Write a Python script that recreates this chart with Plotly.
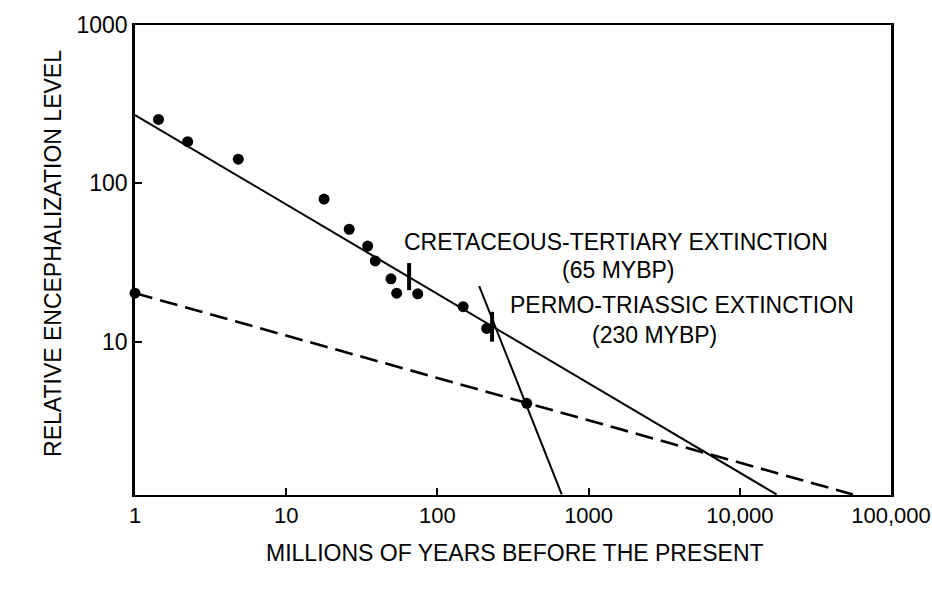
import plotly.graph_objects as go

# ---- data ----
fossil_age_myr = [1.43, 2.23, 4.82, 17.8, 26.1, 34.6, 38.8, 49.3, 53.8, 74.1, 148, 212, 390]
fossil_level = [253, 183, 142, 79.5, 51.2, 40.1, 32.3, 24.9, 20.2, 20.0, 16.6, 12.1, 4.07]

dash_start_age = [1.0]
dash_start_level = [20.2]

trend_age = [1.0, 17500]
trend_level = [270, 1.08]

dashed_age = [1.0, 56100]
dashed_level = [20.2, 1.08]

steep_age = [189, 664]
steep_level = [22.4, 1.08]

ct_age = [65, 65]
ct_level = [21.1, 31.3]
pt_age = [230, 230]
pt_level = [9.97, 15.4]

x_tickvals = [1, 10, 100, 1000, 10000, 100000]
x_ticktext = ["1", "10", "100", "1000", "10,000", "100,000"]
y_tickvals = [10, 100, 1000]
y_ticktext = ["10", "100", "1000"]

FONT = "Liberation Sans, Arial, sans-serif"
FS = 23

fig = go.Figure()
fig.add_trace(go.Scatter(x=trend_age, y=trend_level, mode="lines",
                         line=dict(color="black", width=2), showlegend=False))
fig.add_trace(go.Scatter(x=dashed_age, y=dashed_level, mode="lines",
                         line=dict(color="black", width=2.6, dash="18px,8px"), showlegend=False))
fig.add_trace(go.Scatter(x=steep_age, y=steep_level, mode="lines",
                         line=dict(color="black", width=2), showlegend=False))
fig.add_trace(go.Scatter(x=ct_age, y=ct_level, mode="lines",
                         line=dict(color="black", width=4), showlegend=False))
fig.add_trace(go.Scatter(x=pt_age, y=pt_level, mode="lines",
                         line=dict(color="black", width=4), showlegend=False))
fig.add_trace(go.Scatter(x=fossil_age_myr, y=fossil_level, mode="markers",
                         marker=dict(color="black", size=11), showlegend=False,
                         cliponaxis=False))
fig.add_trace(go.Scatter(x=dash_start_age, y=dash_start_level, mode="markers",
                         marker=dict(color="black", size=11), showlegend=False,
                         cliponaxis=False))

ann_font = dict(family=FONT, size=FS, color="black")
annotations = [
    dict(text="CRETACEOUS-TERTIARY EXTINCTION", x=0.3532, y=0.5383),
    dict(text="(65 MYBP)", x=0.5622, y=0.4787),
    dict(text="PERMO-TRIASSIC EXTINCTION", x=0.4934, y=0.4043),
    dict(text="(230 MYBP)", x=0.6019, y=0.3404),
]
for a in annotations:
    fig.add_annotation(text=a["text"], x=a["x"], y=a["y"], xref="paper", yref="paper",
                       xanchor="left", yanchor="middle", showarrow=False, font=ann_font)

fig.add_annotation(text="MILLIONS OF YEARS BEFORE THE PRESENT", x=0.502, y=-0.1234,
                   xref="paper", yref="paper", xanchor="center", yanchor="middle",
                   showarrow=False, font=ann_font)
fig.add_annotation(text="RELATIVE ENCEPHALIZATION LEVEL", x=-0.1085, y=0.515,
                   xref="paper", yref="paper", xanchor="center", yanchor="middle",
                   textangle=-90, showarrow=False, font=ann_font)

fig.update_layout(
    width=932, height=591,
    margin=dict(l=135, r=41, t=25, b=96),
    paper_bgcolor="white", plot_bgcolor="white",
    font=dict(family=FONT, size=FS, color="black"),
    xaxis=dict(type="log", range=[0, 5], tickvals=x_tickvals, ticktext=x_ticktext,
               showgrid=False, zeroline=False, showline=True, linecolor="black",
               linewidth=2, mirror=True, ticks="inside", ticklen=7, tickwidth=1.5,
               tickcolor="black", ticklabeloverflow="allow", automargin=False,
               tickfont=dict(family=FONT, size=22, color="black")),
    yaxis=dict(type="log", range=[0.03, 3], tickvals=y_tickvals, ticktext=y_ticktext,
               showgrid=False, zeroline=False, showline=True, linecolor="black",
               linewidth=2.5, mirror=True, ticks="inside", ticklen=7, tickwidth=1.5,
               tickcolor="black", automargin=False,
               tickfont=dict(family=FONT, size=FS, color="black")),
)

fig.write_html("out.html")
